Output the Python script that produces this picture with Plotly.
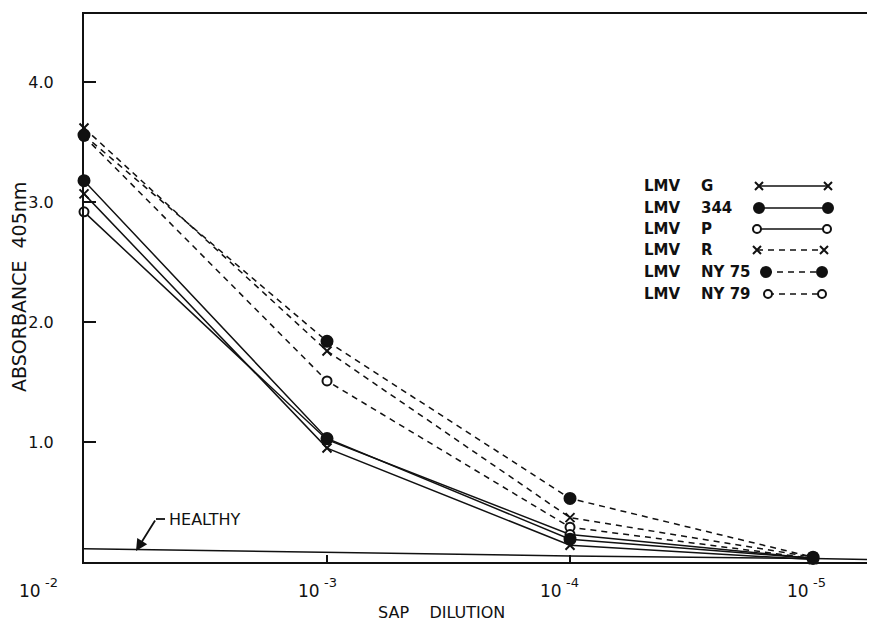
import plotly.graph_objects as go

# ---- data ----
dilution_log = [-2, -3, -4, -5]
tick_base = ["10", "10", "10", "10"]
tick_exp = ["-2", "-3", "-4", "-5"]
lmv_g = [3.07, 0.95, 0.14, 0.02]
lmv_344 = [3.18, 1.03, 0.19, 0.03]
lmv_p = [2.92, 1.02, 0.23, 0.03]
lmv_r = [3.62, 1.76, 0.37, 0.04]
lmv_ny75 = [3.56, 1.84, 0.53, 0.04]
lmv_ny79 = [3.55, 1.51, 0.29, 0.03]
healthy_x = [-2, -3, -4, -5, -5.25]
healthy = [0.11, 0.08, 0.05, 0.03, 0.02]
y_ticks = [1, 2, 3, 4]
y_tick_text = ["1.0", "2.0", "3.0", "4.0"]

series_names = ["G", "344", "P", "R", "NY 75", "NY 79"]
series_vals = [lmv_g, lmv_344, lmv_p, lmv_r, lmv_ny75, lmv_ny79]
draw_order = ["NY 79", "P", "G", "344", "R", "NY 75"]

BLACK = "#111111"
FONT = "DejaVu Sans"

styles = {
    "G": dict(symbol="x-thin", fill=BLACK, dash="solid", size=9),
    "344": dict(symbol="circle", fill=BLACK, dash="solid", size=11),
    "P": dict(symbol="circle", fill="white", dash="solid", size=9),
    "R": dict(symbol="x-thin", fill=BLACK, dash="6px,5px", size=9),
    "NY 75": dict(symbol="circle", fill=BLACK, dash="6px,5px", size=11),
    "NY 79": dict(symbol="circle", fill="white", dash="6px,5px", size=9),
}
vals_by_name = dict(zip(series_names, series_vals))

# page body has an 8px margin; compensate so the plot sits where the original does
PAGE_OFF = 8
W, H = 875 - PAGE_OFF, 622 - PAGE_OFF
L, T = 84 - PAGE_OFF, 14 - PAGE_OFF
B = 60
PLOT_W, PLOT_H = W - L, H - T - B


def px_to_paper(px, py):
    return (px - 84) / PLOT_W, (562 - py) / PLOT_H


fig = go.Figure()

# healthy baseline
fig.add_trace(go.Scatter(x=healthy_x, y=healthy, mode="lines",
                         line=dict(color=BLACK, width=1.5), showlegend=False))

for name in draw_order:
    s = styles[name]
    fig.add_trace(go.Scatter(
        x=dilution_log, y=vals_by_name[name], mode="lines+markers",
        line=dict(color=BLACK, width=1.5, dash=s["dash"]),
        marker=dict(symbol=s["symbol"], size=s["size"], color=s["fill"],
                    line=dict(color=BLACK, width=2)),
        showlegend=False, cliponaxis=False))

# ---- custom legend on an overlay axis in pixel-like units ----
legend_rows = [186, 208, 229, 250, 272, 294]
legend_x0 = [759, 759, 757, 757, 766, 768]
legend_x1 = [828, 828, 827, 824, 822, 822]
for name, ry, x0, x1 in zip(series_names, legend_rows, legend_x0, legend_x1):
    s = styles[name]
    fig.add_trace(go.Scatter(
        x=[x0, x1], y=[ry, ry], mode="lines+markers", xaxis="x2", yaxis="y2",
        line=dict(color=BLACK, width=1.5, dash=s["dash"]),
        marker=dict(symbol=s["symbol"], size=s["size"] - 1, color=s["fill"],
                    line=dict(color=BLACK, width=2)),
        showlegend=False, cliponaxis=False))

annotations = []
for name, ry in zip(series_names, legend_rows):
    annotations.append(dict(x=642, y=ry, xref="x2", yref="y2", text="LMV",
                            showarrow=False, xanchor="left", yanchor="middle",
                            font=dict(family=FONT, size=15, color=BLACK, weight="bold")))
    annotations.append(dict(x=699, y=ry, xref="x2", yref="y2", text=name,
                            showarrow=False, xanchor="left", yanchor="middle",
                            font=dict(family=FONT, size=15, color=BLACK, weight="bold")))

# x tick labels: base "10" plus raised exponent, offset left as in the original
base_right_shift = [-41, -5, -6, -2]
_, base_y = px_to_paper(0, 591)
_, exp_y = px_to_paper(0, 582)
for xv, b, e, sh in zip(dilution_log, tick_base, tick_exp, base_right_shift):
    annotations.append(dict(x=xv, y=base_y, xref="x", yref="paper", text=b,
                            showarrow=False, xanchor="right", yanchor="middle",
                            xshift=sh, font=dict(family=FONT, size=17, color=BLACK)))
    annotations.append(dict(x=xv, y=exp_y, xref="x", yref="paper", text=e,
                            showarrow=False, xanchor="left", yanchor="middle",
                            xshift=sh, font=dict(family=FONT, size=13, color=BLACK)))

# HEALTHY label with bent arrow
annotations.append(dict(x=167, y=519, xref="x2", yref="y2", text="HEALTHY",
                        showarrow=False, xanchor="left", yanchor="middle",
                        font=dict(family=FONT, size=16, color=BLACK)))
annotations.append(dict(x=136, y=551, xref="x2", yref="y2", ax=156, ay=519,
                        axref="x2", ayref="y2", text="", showarrow=True,
                        arrowhead=2, arrowsize=1.3, arrowwidth=1.8,
                        arrowcolor=BLACK))

# axis titles (paper coordinates)
yt_x, yt_y = px_to_paper(19, 287)
annotations.append(dict(x=yt_x, y=yt_y, xref="paper", yref="paper",
                        text="ABSORBANCE&nbsp;&nbsp;405nm", textangle=-90,
                        showarrow=False, xanchor="center", yanchor="middle",
                        font=dict(family=FONT, size=19, color=BLACK)))
xt_x, xt_y = px_to_paper(441, 612)
annotations.append(dict(x=xt_x, y=xt_y, xref="paper", yref="paper",
                        text="SAP&nbsp;&nbsp;&nbsp;&nbsp;DILUTION",
                        showarrow=False, xanchor="center", yanchor="middle",
                        font=dict(family=FONT, size=16, color=BLACK)))

shapes = [dict(type="line", xref="x2", yref="y2", x0=156, y0=519, x1=165, y1=519,
               line=dict(color=BLACK, width=1.8))]

fig.update_layout(
    width=W, height=H,
    margin=dict(l=L, r=0, t=T, b=B, pad=0),
    paper_bgcolor="white", plot_bgcolor="white",
    font=dict(family=FONT, size=15, color=BLACK),
    xaxis=dict(range=[-2, -5.255], tickvals=dilution_log, ticktext=[""] * 4,
               ticks="inside", ticklen=7, tickwidth=1.5, tickcolor=BLACK,
               showline=True, linecolor=BLACK, linewidth=2, mirror=True,
               showgrid=False, zeroline=False),
    yaxis=dict(range=[0, 4.57], tickvals=y_ticks, ticktext=y_tick_text,
               ticks="inside", ticklen=12, tickwidth=1.5, tickcolor=BLACK,
               showline=True, linecolor=BLACK, linewidth=2,
               showgrid=False, zeroline=False, ticklabelstandoff=25,
               tickfont=dict(family=FONT, size=16, color=BLACK)),
    xaxis2=dict(range=[84, 84 + PLOT_W], overlaying="x", anchor="y2", visible=False,
                domain=[0, 1]),
    yaxis2=dict(range=[562, 562 - PLOT_H], overlaying="y", anchor="x2", visible=False,
                domain=[0, 1]),
    annotations=annotations,
    shapes=shapes,
    showlegend=False,
)

fig.write_html("out.html")
